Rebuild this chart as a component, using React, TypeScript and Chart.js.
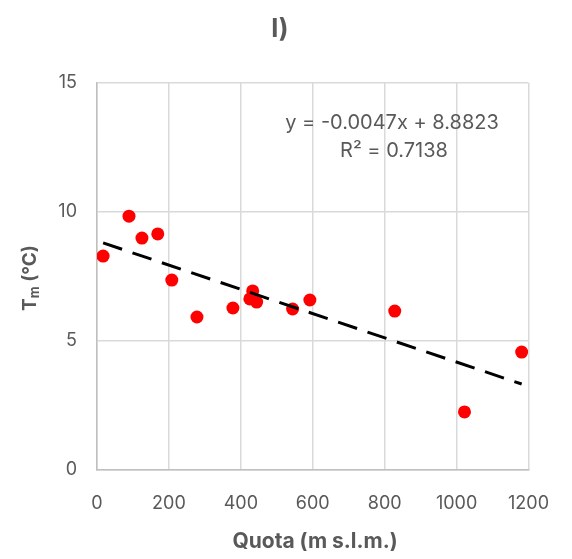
import React, { useEffect, useRef } from "react";
import { Chart, registerables } from "chart.js";
Chart.register(...registerables);

const quota = [17, 89, 125, 169, 208, 278, 378, 433, 425, 444, 544, 592, 828, 1022, 1181];
const tm = [8.29, 9.84, 8.99, 9.15, 7.36, 5.93, 6.28, 6.94, 6.63, 6.51, 6.24, 6.59, 6.16, 2.25, 4.57];
const trendSlope = -0.0047;
const trendIntercept = 8.8823;
const trendX = [17, 1181];
const xTicks = [0, 200, 400, 600, 800, 1000, 1200];
const yTicks = [0, 5, 10, 15];
const titleText = "l)";
const xTitle = "Quota (m s.l.m.)";
const eqLine1 = "y = -0.0047x + 8.8823";
const eqLine2 = "R² = 0.7138";

const FONT = "Inter, 'Open Sans', sans-serif";
const GRAY = "#595959";

export default function App() {
  const ref = useRef<HTMLCanvasElement>(null);
  useEffect(() => {
    const textPlugin = {
      id: "texts",
      afterDraw(chart: any) {
        const ctx = chart.ctx;
        ctx.save();
        ctx.fillStyle = GRAY;
        ctx.textAlign = "center";
        ctx.textBaseline = "middle";
        ctx.font = `bold 26px ${FONT}`;
        ctx.fillText(titleText, 280, 29);
        ctx.font = `bold 21px ${FONT}`;
        ctx.fillText(xTitle, 315, 542);
        // y title with subscript
        ctx.translate(30, 278);
        ctx.rotate(-Math.PI / 2);
        ctx.textAlign = "left";
        const t1 = "T";
        const t2 = "m";
        const t3 = " (°C)";
        ctx.font = `bold 19px ${FONT}`;
        const w1 = ctx.measureText(t1).width;
        const w3 = ctx.measureText(t3).width;
        ctx.font = `bold 13px ${FONT}`;
        const w2 = ctx.measureText(t2).width;
        const x0 = -(w1 + w2 + w3) / 2;
        ctx.font = `bold 19px ${FONT}`;
        ctx.fillText(t1, x0, 0);
        ctx.font = `bold 13px ${FONT}`;
        ctx.fillText(t2, x0 + w1, 5);
        ctx.font = `bold 19px ${FONT}`;
        ctx.fillText(t3, x0 + w1 + w2, 0);
        ctx.restore();
        // equation
        ctx.save();
        ctx.fillStyle = GRAY;
        ctx.font = `20px ${FONT}`;
        ctx.textAlign = "center";
        ctx.textBaseline = "middle";
        ctx.fillText(eqLine1, 392, 123);
        ctx.fillText(eqLine2, 394, 151);
        ctx.restore();
      },
    };
    const chart = new Chart(ref.current!, {
      type: "scatter",
      data: {
        datasets: [
          {
            type: "line",
            data: trendX.map((x) => ({ x, y: trendSlope * x + trendIntercept })),
            borderColor: "#000000",
            borderWidth: 3,
            borderDash: [20, 11],
            pointRadius: 0,
            fill: false,
          } as any,
          {
            data: quota.map((x, i) => ({ x, y: tm[i] })),
            backgroundColor: "#ff0000",
            borderColor: "#ff0000",
            pointRadius: 6.5,
            pointBorderWidth: 0,
          },
        ],
      },
      options: {
        animation: false,
        responsive: false,
        maintainAspectRatio: false,
        layout: { padding: { top: 83, right: 43, left: 0, bottom: 0 } },
        plugins: { legend: { display: false }, tooltip: { enabled: false }, title: { display: false } },
        scales: {
          x: {
            type: "linear",
            min: 0,
            max: 1200,
            afterBuildTicks: (s: any) => { s.ticks = xTicks.map((v) => ({ value: v })); },
            afterFit: (s: any) => { s.height = 89; },
            grid: { color: "#d9d9d9", lineWidth: 1.5, drawTicks: false },
            border: { color: "#bfbfbf", width: 1.5 },
            ticks: { color: GRAY, font: { family: FONT, size: 18 }, padding: 23, maxRotation: 0, callback: (v: any) => String(v) },
          },
          y: {
            type: "linear",
            min: 0,
            max: 15,
            afterBuildTicks: (s: any) => { s.ticks = yTicks.map((v) => ({ value: v })); },
            afterFit: (s: any) => { s.width = 97; },
            grid: { color: "#d9d9d9", lineWidth: 1.5, drawTicks: false },
            border: { color: "#bfbfbf", width: 1.5 },
            ticks: { color: GRAY, font: { family: FONT, size: 18 }, padding: 20, callback: (v: any) => String(v) },
          },
        },
      },
      plugins: [textPlugin],
    });
    return () => chart.destroy();
  }, []);
  return (
    <div style={{ position: "fixed", left: 0, top: 0, width: 572, height: 559, background: "#fff" }}>
      <canvas ref={ref} width={572} height={559} style={{ display: "block" }} />
    </div>
  );
}
